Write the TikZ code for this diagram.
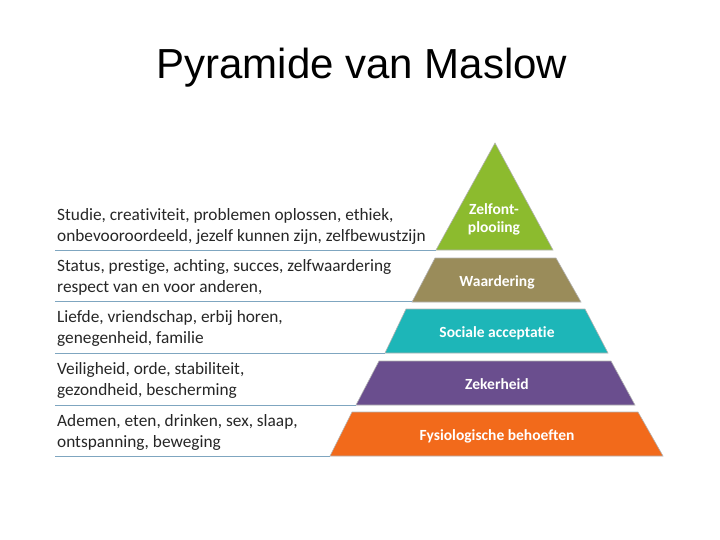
\documentclass[tikz,border=0pt]{standalone}
\usepackage{fontspec}
\setmainfont{Carlito}[Ligatures={NoCommon}]
\newfontfamily\titlefont{Liberation Sans}
\begin{document}
\begin{tikzpicture}[x=1pt,y=-1pt,
  lvl/.style={draw=white!70!black,line width=0.6pt},
  lab/.style={text=white,font=\bfseries\fontsize{15.5}{18}\selectfont,align=center},
  desc/.style={anchor=west,align=left,font=\fontsize{17.3}{21}\selectfont,text=black!85,inner sep=0pt},
  sep/.style={draw=cl,line width=0.8pt}]
\useasboundingbox (0,0) rectangle (720,540);
\definecolor{cl}{HTML}{7FA6C0}
\node (title) at (362,68) {\titlefont\fontsize{42}{46}\selectfont Pyramide van Maslow};
\definecolor{cg}{HTML}{8CBB2E}\definecolor{co}{HTML}{9A8C5A}
\definecolor{ct}{HTML}{1DB6B8}\definecolor{cp}{HTML}{6A4E8E}\definecolor{cr}{HTML}{F26A1B}
\fill[cg,lvl] (495,143) -- (553,250) -- (436,250) -- cycle;
\fill[co,lvl] (435,258) -- (556,258) -- (581,302) -- (412,302) -- cycle;
\fill[ct,lvl] (406,309) -- (585,309) -- (608,353) -- (385,353) -- cycle;
\fill[cp,lvl] (379,361) -- (611,361) -- (635,405) -- (356,405) -- cycle;
\fill[cr,lvl] (352,412) -- (638,412) -- (663,456) -- (330,456) -- cycle;
\node[lab] (l1) at (494,219) {Zelfont-\\plooiing};
\node[lab] (l2) at (497,282) {Waardering};
\node[lab] (l3) at (497,333) {Sociale acceptatie};
\node[lab] (l4) at (497,384) {Zekerheid};
\node[lab] (l5) at (497,436) {Fysiologische behoeften};
\coordinate (a1) at (55,250); \coordinate (b1) at (436,250);
\coordinate (a2) at (55,301); \coordinate (b2) at (412,301);
\coordinate (a3) at (55,353); \coordinate (b3) at (385,353);
\coordinate (a4) at (55,405); \coordinate (b4) at (356,405);
\coordinate (a5) at (55,456); \coordinate (b5) at (330,456);
\draw[sep] (a1) -- (b1); \draw[sep] (a2) -- (b2); \draw[sep] (a3) -- (b3);
\draw[sep] (a4) -- (b4); \draw[sep] (a5) -- (b5);
\node[desc] (d1) at (57,226) {Studie, creativiteit, problemen oplossen, ethiek,\\onbevooroordeeld,\ jezelf kunnen zijn, zelfbewustzijn};
\node[desc] (d2) at (57,277) {Status, prestige, achting, succes, zelfwaardering\\respect van en voor anderen,};
\node[desc] (d3) at (57,328) {Liefde, vriendschap, erbij horen,\\genegenheid, familie};
\node[desc] (d4) at (57,380) {Veiligheid, orde, stabiliteit,\\gezondheid, bescherming};
\node[desc] (d5) at (57,432) {Ademen, eten, drinken, sex, slaap,\\ontspanning, beweging};
\end{tikzpicture}
\end{document}
